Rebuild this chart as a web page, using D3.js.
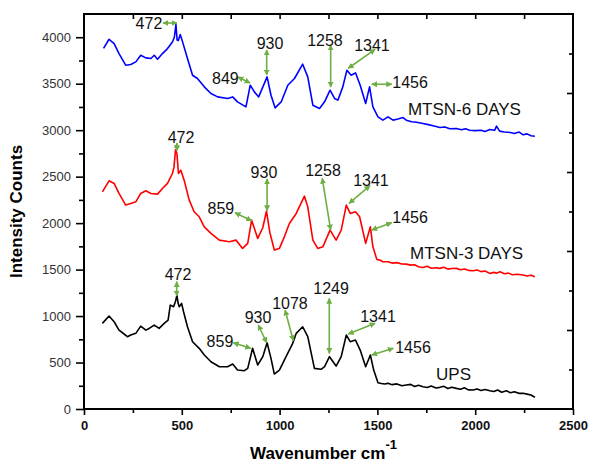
<!DOCTYPE html>
<html>
<head>
<meta charset="utf-8">
<script src="https://cdn.jsdelivr.net/npm/d3@7"></script>
<style>
  body { margin: 0; background: #fff; }
  text { font-family: Arial, "Liberation Sans", sans-serif; }
</style>
</head>
<body>
<div id="main"></div>
<script>
//data: wavenumber / intensity pairs
const upsWn = [94,128,154,179,200,222,239,265,290,316,333,359,384,410,430,441,458,468,475,481,487,499,509,529,555,589,615,649,692,734,760,785,820,837,862,888,914,936,956,973,999,1033,1067,1085,1118,1144,1178,1212,1230,1255,1289,1315,1341,1361,1388,1412,1440,1464,1481,1503,1520,1537,1554,1575,1600,1625,1648,1670,1690,1710,1733,1755,1775,1800,1819,1840,1860,1880,1904,1925,1945,1965,1989,2010,2030,2050,2075,2095,2115,2135,2160,2180,2200,2225,2245,2265,2285,2305];
const upsInt = [921,1000,939,849,815,778,796,814,892,849,867,903,867,921,957,1118,1100,1160,1226,1140,1100,1136,1046,885,724,653,581,509,455,455,484,419,412,437,653,473,563,713,545,376,419,563,706,814,885,778,437,427,455,563,462,563,796,724,742,634,455,581,419,283,275,269,276,262,270,250,258,265,242,255,240,232,248,226,233,244,220,235,222,212,228,206,204,215,198,210,197,188,205,180,196,175,185,168,169,160,150,126];

const m3Wn = [94,128,154,179,213,239,265,290,316,342,376,401,427,452,460,468,475,483,495,512,538,563,589,615,649,692,743,777,811,837,857,870,888,914,933,950,973,999,1020,1050,1085,1127,1144,1170,1195,1221,1258,1289,1315,1341,1361,1388,1409,1440,1464,1477,1497,1515,1528,1554,1575,1600,1625,1648,1670,1690,1710,1733,1755,1775,1800,1819,1840,1860,1880,1904,1925,1945,1965,1989,2010,2030,2050,2075,2095,2110,2126,2150,2170,2190,2215,2245,2265,2285,2305];
const m3Int = [2337,2455,2427,2319,2194,2212,2229,2319,2348,2319,2312,2373,2427,2534,2600,2790,2749,2534,2570,2462,2247,2122,2068,1960,1889,1817,1799,1817,1728,1782,2032,1950,1835,1950,2130,1900,1710,1728,1830,1996,2104,2290,2175,1817,1728,1745,1925,1817,1925,2194,2104,2122,2068,1782,1960,1745,1610,1600,1584,1584,1570,1575,1560,1559,1548,1552,1530,1523,1535,1515,1520,1513,1525,1505,1512,1513,1498,1506,1492,1487,1495,1478,1485,1459,1470,1462,1477,1455,1462,1445,1450,1441,1430,1440,1423];

const m6Wn = [100,128,154,179,213,239,265,290,316,342,359,376,401,427,452,462,470,476,482,492,504,529,555,580,615,649,683,734,760,785,828,850,871,893,936,956,977,1008,1042,1076,1118,1144,1170,1204,1230,1258,1281,1298,1323,1344,1366,1388,1412,1440,1460,1477,1503,1528,1554,1580,1605,1631,1648,1675,1700,1733,1760,1790,1819,1845,1870,1904,1930,1950,1972,2000,2030,2050,2075,2100,2109,2125,2150,2180,2200,2225,2245,2265,2285,2305];
const m6Int = [3880,3978,3932,3824,3699,3706,3735,3806,3778,3771,3806,3763,3824,3878,3949,4000,4140,3970,3965,4030,3950,3771,3591,3556,3466,3394,3358,3341,3358,3304,3251,3484,3412,3358,3573,3376,3240,3304,3484,3556,3710,3573,3269,3233,3305,3430,3341,3323,3466,3645,3591,3617,3484,3287,3466,3251,3143,3108,3143,3108,3120,3136,3108,3090,3085,3072,3060,3045,3029,3035,3015,3018,3005,3015,3000,2995,3000,2985,3007,3000,3043,2990,2980,2975,2965,2980,2950,2960,2940,2935];

const seriesNames = ['UPS', 'MTSN-3 DAYS', 'MTSN-6 DAYS'];
const seriesColors = ['#000000', '#ff0000', '#0000ff'];

//peak labels: text anchor and double arrow ends, in data units
const peakText = ['472','859','930','1078','1249','1341','1456',
                  '472','859','930','1258','1341','1456',
                  '472','849','930','1258','1341','1456'];
const peakTextWn  = [481,695,890,1053,1263,1503,1682, 496,700,920,1222,1467,1667, 332,723,951,1232,1472,1667];
const peakTextInt = [1453,732,990,1141,1302,1001,667, 2927,2163,2550,2572,2464,2066, 4153,3561,3938,3970,3916,3518];
const arrowWn1  = [474,763,891,1028,1254,1488,1581, 475,772,936,1218,1462,1573, 404,787,934,1261,1488,1471];
const arrowInt1 = [1370,713,904,1065,1191,922,653, 2862,2112,2475,2482,2403,2005, 4153,3572,3863,3916,3870,3494];
const arrowWn2  = [474,852,934,1070,1254,1351,1471, 475,857,936,1261,1355,1471, 475,849,934,1261,1351,1573];
const arrowInt2 = [1216,653,713,735,599,807,581, 2779,2026,2134,1926,2213,1926, 4153,3508,3594,3465,3666,3494];

const nameWn  = [1800, 1667, 1656];
const nameInt = [377, 1679, 3228];

//layout
const margin = {top: 14, right: 16, bottom: 54, left: 84};
const w = 589 - margin.left - margin.right;
const h = 463 - margin.top - margin.bottom;

const x = d3.scaleLinear().domain([0, 2500]).range([0, w]);
const y = d3.scaleLinear().domain([0, 4250]).range([h, 0]);
const yRight = d3.scaleLinear().domain([0, 10]).range([h, 0]);

const svg = d3.select('#main')
  .append('svg')
  .attr('width', w + margin.left + margin.right)
  .attr('height', h + margin.top + margin.bottom)
  .append('g')
  .attr('transform', `translate(${margin.left}, ${margin.top})`);

const green = '#6fae45';

svg.append('defs').append('marker')
  .attr('id', 'head')
  .attr('viewBox', '0 0 10 10')
  .attr('refX', 9)
  .attr('refY', 5)
  .attr('markerWidth', 6)
  .attr('markerHeight', 6)
  .attr('markerUnits', 'userSpaceOnUse')
  .attr('orient', 'auto-start-reverse')
  .append('path')
  .attr('d', 'M0,0L10,5L0,10z')
  .attr('fill', green);

//axes
function styleAxis (g) {
  g.select('.domain').remove();
  g.selectAll('line').attr('stroke', '#000').attr('stroke-width', 1.6);
}

svg.append('g')
  .attr('transform', `translate(0, ${h})`)
  .call(d3.axisBottom(x).tickValues(d3.range(250, 2500, 500)).tickSize(4).tickFormat(''))
  .call(styleAxis);

svg.append('g')
  .attr('transform', `translate(0, ${h})`)
  .call(d3.axisBottom(x).tickValues(d3.range(0, 2501, 500)).tickSize(6).tickPadding(6).tickFormat(d3.format('d')))
  .call(styleAxis)
  .selectAll('text')
  .style('font-size', '13px')
  .style('font-weight', 'bold')
  .attr('fill', '#111');

svg.append('g')
  .call(d3.axisTop(x).tickValues(d3.range(250, 2500, 250)).tickSizeInner(-5).tickFormat(''))
  .call(styleAxis);

svg.append('g')
  .call(d3.axisLeft(y).tickValues(d3.range(250, 4250, 500)).tickSize(5).tickFormat(''))
  .call(styleAxis);

svg.append('g')
  .call(d3.axisLeft(y).tickValues(d3.range(0, 4001, 500)).tickSize(8).tickPadding(5).tickFormat(d3.format('d')))
  .call(styleAxis)
  .selectAll('text')
  .style('font-size', '13px')
  .attr('fill', '#333');

svg.append('g')
  .attr('transform', `translate(${w}, 0)`)
  .call(d3.axisLeft(yRight).tickValues(d3.range(1, 10)).tickSize(0).tickFormat(''))
  .call(styleAxis)
  .selectAll('.tick line')
  .attr('x2', d => d % 2 === 0 ? -6 : -4);

svg.append('rect')
  .attr('width', w)
  .attr('height', h)
  .attr('fill', 'none')
  .attr('stroke', '#000')
  .attr('stroke-width', 2);

//spectra
const line = d3.line()
  .x(d => x(d[0]))
  .y(d => y(d[1]));

const series = [d3.zip(upsWn, upsInt), d3.zip(m3Wn, m3Int), d3.zip(m6Wn, m6Int)];

svg.selectAll('.spectrum')
  .data(series)
  .enter()
  .append('path')
  .attr('class', 'spectrum')
  .attr('d', line)
  .attr('fill', 'none')
  .attr('stroke', (d, i) => seriesColors[i])
  .attr('stroke-width', 1.6)
  .attr('stroke-linejoin', 'round');

//series names
svg.selectAll('.name')
  .data(seriesNames)
  .enter()
  .append('text')
  .attr('x', (d, i) => x(nameWn[i]))
  .attr('y', (d, i) => y(nameInt[i]))
  .attr('dy', '0.35em')
  .style('font-size', '17px')
  .attr('fill', '#111')
  .text(d => d);

//peak arrows + labels
svg.selectAll('.arrow')
  .data(peakText)
  .enter()
  .append('line')
  .attr('x1', (d, i) => x(arrowWn1[i]))
  .attr('y1', (d, i) => y(arrowInt1[i]))
  .attr('x2', (d, i) => x(arrowWn2[i]))
  .attr('y2', (d, i) => y(arrowInt2[i]))
  .attr('stroke', green)
  .attr('stroke-width', 1.6)
  .attr('marker-start', 'url(#head)')
  .attr('marker-end', 'url(#head)');

svg.selectAll('.peak')
  .data(peakText)
  .enter()
  .append('text')
  .attr('x', (d, i) => x(peakTextWn[i]))
  .attr('y', (d, i) => y(peakTextInt[i]))
  .attr('dy', '0.35em')
  .attr('text-anchor', 'middle')
  .style('font-size', '16px')
  .attr('fill', '#111')
  .text(d => d);

//axis titles
svg.append('text')
  .attr('transform', `translate(${-62}, ${h / 2}) rotate(-90)`)
  .attr('text-anchor', 'middle')
  .style('font-size', '17px')
  .style('font-weight', 'bold')
  .text('Intensity Counts');

const xTitle = svg.append('text')
  .attr('x', x(1250) - 5)
  .attr('y', h + 50)
  .attr('text-anchor', 'middle')
  .style('font-size', '17px')
  .style('font-weight', 'bold');
xTitle.append('tspan').text('Wavenumber cm');
xTitle.append('tspan').attr('dy', -10).style('font-size', '13px').text('-1');
</script>
</body>
</html>
